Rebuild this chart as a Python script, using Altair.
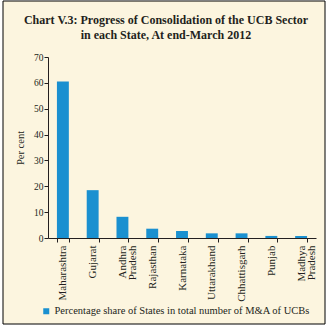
import altair as alt
import pandas as pd

states = ["Maharashtra", "Gujarat", "Andhra|Pradesh", "Rajasthan", "Karnataka",
          "Uttarakhand", "Chhattisgarh", "Punjab", "Madhya|Pradesh"]
shares = [60.5, 18.5, 8.2, 3.6, 2.7, 1.8, 1.8, 0.8, 0.8]
series_name = "Percentage share of States in total number of M&A of UCBs"
y_ticks = [0, 10, 20, 30, 40, 50, 60, 70]

df = pd.DataFrame({"state": states, "share": shares, "series": series_name})

FONT = "Liberation Serif"
BG = "#FCF5DF"
BLUE = "#1A90D0"
INK = "#231F20"

frame = alt.Chart(pd.DataFrame({"a": [0]})).mark_rect(
    fill=BG, stroke="#000000", strokeWidth=1, clip=False
).encode(
    x=alt.value(-45), x2=alt.value(277), y=alt.value(-56), y2=alt.value(267)
)

bars = alt.Chart(df).mark_bar(color=BLUE).encode(
    x=alt.X("state:N", sort=states,
            scale=alt.Scale(paddingInner=0.6, paddingOuter=0.3),
            axis=alt.Axis(title=None, labelAngle=-90, labelAlign="right",
                          labelBaseline="middle",
                          labelExpr="split(datum.label, '|')",
                          tickBand="extent", tickSize=4, labelPadding=3,
                          labelFont=FONT, labelFontSize=11, labelColor=INK,
                          domainColor=INK, tickColor=INK, zindex=1,
                          labelLineHeight=10.5)),
    y=alt.Y("share:Q", scale=alt.Scale(domain=[0, 70], nice=False),
            axis=alt.Axis(title="Per cent", values=y_ticks, grid=False,
                          tickSize=4, labelPadding=1, labelFont=FONT,
                          labelFontSize=9.5, labelColor=INK, domainColor=INK,
                          tickColor=INK, titleFont=FONT, titleFontSize=10.5,
                          titleFontWeight="normal", titleColor=INK,
                          titlePadding=8, zindex=1)),
    color=alt.Color("series:N", scale=alt.Scale(range=[BLUE]),
                    legend=alt.Legend(title=None, orient="none", legendX=-7,
                                      legendY=249, symbolType="square",
                                      symbolSize=36, symbolStrokeWidth=0,
                                      labelOffset=3,
                                      labelFont=FONT, labelFontSize=10.5,
                                      labelColor=INK, labelLimit=400,
                                      zindex=1)),
)

chart = alt.layer(frame, bars).properties(
    width=268, height=181,
    title=alt.TitleParams(
        text=["Chart V.3: Progress of Consolidation of the UCB Sector",
              "in each State, At end-March 2012"],
        font=FONT, fontSize=12, fontWeight="bold", color=INK,
        anchor="middle", dx=-16, dy=45, lineHeight=14.5, zindex=1,
    ),
    autosize=alt.AutoSizeParams(type="none"),
    padding={"left": 48, "top": 57, "right": 15, "bottom": 93},
).configure(background="white").configure_view(stroke=None)

chart.save("out.html", embed_options={"renderer": "svg", "actions": False})
